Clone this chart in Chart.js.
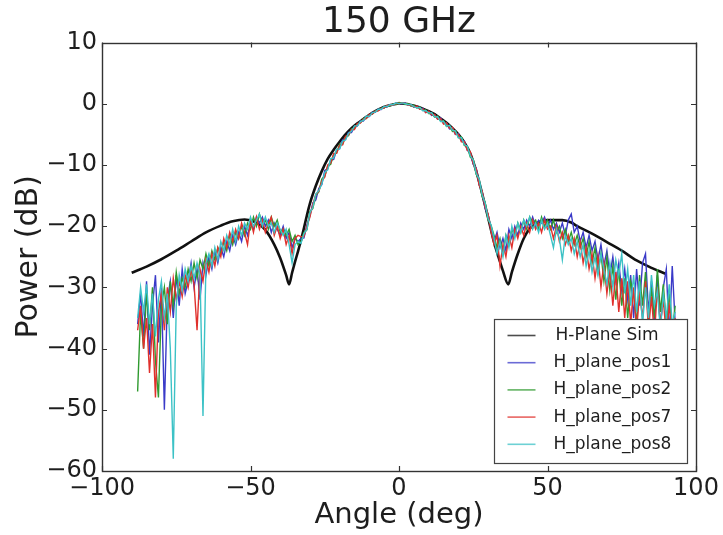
<!DOCTYPE html>
<html><head><meta charset="utf-8">
<script src="https://cdn.jsdelivr.net/npm/chart.js@4.4.1/dist/chart.umd.min.js"></script>
<style>html,body{margin:0;padding:0;background:#fff;}canvas{display:block;}</style>
</head><body>
<canvas id="c" width="723" height="535"></canvas>
<script>
const chartTitle = '150 GHz';
const xAxisTitle = 'Angle (deg)';
const yAxisTitle = 'Power (dB)';
const seriesNames = ['H-Plane Sim', 'H_plane_pos1', 'H_plane_pos2', 'H_plane_pos7', 'H_plane_pos8'];
const seriesColors = ['#111111', '#3a3ac8', '#2f9a2f', '#e0302c', '#3cc2c6'];
const xTickValues = [-100, -50, 0, 50, 100];
const xTickLabels = ['\u2212100', '\u221250', '0', '50', '100'];
const yTickValues = [10, 0, -10, -20, -30, -40, -50, -60];
const yTickLabels = ['10', '0', '\u221210', '\u221220', '\u221230', '\u221240', '\u221250', '\u221260'];

const simAngles = [-90,-85,-80,-75,-70,-65,-60,-56,-52,-48,
-45,-42,-40,-38,-37,-36,-35,-34,-33,-32,
-31,-30,-28,-26,-24,-22,-20,-18,-16,-14,
-12,-10,-8,-6,-4,-2,0,2,4,6,
8,10,12,14,16,18,20,22,24,26,
28,30,32,34,35,36.8,38,40,42,44,
46,48,50,52,55,58,60,65,70,75,
80,85,90];
const simPower = [-27.6,-26.6,-25.4,-24.0,-22.5,-21.0,-19.9,-19.2,-18.9,-19.4,
-20.6,-23.0,-25.2,-28.0,-29.5,-27.6,-25.8,-24.1,-22.3,-20.3,
-18.2,-16.3,-13.4,-11.0,-9.0,-7.5,-6.2,-5.0,-4.0,-3.2,
-2.5,-1.8,-1.2,-0.7,-0.35,-0.1,0.05,0,-0.2,-0.45,
-0.8,-1.2,-1.7,-2.4,-3.1,-4.0,-5.0,-6.3,-8.1,-11.0,
-14.7,-18.6,-22.6,-25.8,-27.3,-29.5,-27.5,-24.5,-22.0,-20.4,
-19.6,-19.2,-19.0,-19.0,-19.0,-19.4,-20.0,-21.2,-22.6,-24.0,
-25.6,-26.8,-27.8];

const measAngles = [-88,-87,-86,-85,-84,-83,-82,-81,-80,-79,-78,-77,-76,-75,-74,-73,-72,-71,-70,-69,-68,-67,-66,-65,-64,-63,-62,-61,
-60,-59,-58,-57,-56,-55,-54,-53,-52,-51,-50,-49,-48,-47,-46,-45,-44,-43,-42,-41,-40,-39,-38,-37,-36,-35,-34,
-33,-32,-31,-30,-29,-28,-27,-26,-25,-24,-23,-22,-21,-20,-19,-18,-17,-16,-15,-14,-13,-12,-11,-10,-9,-8,-7,-6,-5,-4,-3,-2,-1,0,1,2,3,4,5,6,7,8,9,10,11,12,13,14,15,16,17,18,19,20,21,22,23,24,25,26,27,28,29,30,31,
32,33,34,35,36,37,38,39,40,41,42,43,44,45,46,47,48,49,50,51,52,53,54,55,56,57,58,59,60,
61,62,63,64,65,66,67,68,69,70,71,72,73,74,75,76,77,78,79,80,81,82,83,84,85,86,87,88,89,90,91,92,93];

const pos1 = [-36,-31,-38,-29,-41,-33,-28,-39,-30,-50,-32,-29,-35,-28,-33,-27,-31,-29,-26,-30,-27,-32,-26,-28,-25,-27,-24,-26,
-23.5,-25,-22.5,-24,-21.5,-23,-21,-22.5,-20,-21.5,-19.5,-20.5,-18.5,-19.5,-18.5,-20,-19,-21,-19.5,-20.5,-21.5,-20,-22,-21,-23.5,-22,-22.5,
-22.0,-21.9,-19.8,-18.3,-16.2,-15.7,-13.8,-13.2,-10.9,-10.6,-9.2,-9.1,-7.6,-7.3,-5.9,-5.8,-4.7,-4.7,-3.8,-3.6,-2.8,-2.8,-2.1,-2.1,-1.4,-1.4,-0.9,-0.95,-0.5,-0.5,-0.1,-0.2,0.1,0.1,0,0.15,-0.2,-0.15,-0.55,-0.45,-0.85,-0.75,-1.4,-1.3,-1.9,-1.8,-2.5,-2.3,-3.2,-3.2,-4.1,-4.0,-5.0,-4.9,-6.0,-6.1,-7.6,-8.0,-9.9,-10.5,-13.2,-14.4,-17.1,-18.1,-20.6,
-22.5,-21,-23.5,-22,-24,-20.5,-22,-20,-21.5,-19.5,-20.5,-19,-20,-18.5,-20,-19,-19.5,-18.5,-20,-19,-20.5,-19.5,-21,-19.5,-21.5,-19,-18,-21,-20,
-22.5,-21,-23.5,-21.5,-24,-22.5,-25.5,-23,-26.5,-24,-28,-25,-29,-26,-30.5,-27,-32,-28,-35,-27,-33,-26,-24.5,-34,-29,-36,-28,-37,-30,-27,-38,-26.5,-36];

const pos2 = [-47,-34,-40,-31,-37,-30,-42,-48,-33,-30,-36,-29,-33,-27.5,-31,-28.5,-30,-27,-29,-26,-28.5,-25.5,-27,-24.5,-26.5,-24,-25.5,-23.5,
-24.5,-22.5,-24,-21.5,-23,-21,-22,-20,-21.5,-19.5,-20.5,-18.5,-20,-18,-19.5,-19,-20.5,-18.5,-20,-19,-21,-20.5,-21.5,-20.5,-22.5,-21.5,-23,
-22.5,-21.0,-20.6,-17.6,-17.1,-14.9,-14.4,-12.3,-11.8,-10.2,-9.9,-8.3,-8.0,-6.6,-6.6,-5.4,-5.2,-4.1,-4.1,-3.3,-3.1,-2.4,-2.4,-1.8,-1.7,-1.15,-1.1,-0.7,-0.65,-0.3,-0.35,-0.05,-0.1,0.2,0.15,-0.1,0.05,-0.35,-0.25,-0.7,-0.55,-1.05,-1.0,-1.6,-1.55,-2.2,-2.0,-2.8,-2.75,-3.7,-3.6,-4.5,-4.4,-5.5,-5.4,-6.8,-7.0,-8.7,-9.1,-11.5,-12.5,-15.1,-16.1,-18.9,-19.9,
-21.5,-23.5,-22,-24.5,-21.5,-23,-20.5,-21.5,-19.5,-21,-19,-20.5,-18.5,-19.5,-19,-20.5,-18.5,-20,-19,-20.5,-19,-21,-20,-22,-20.5,-22.5,-21,-23,-21.5,
-23.5,-22,-25,-22.5,-26,-23.5,-27.5,-24.5,-29,-25,-30.5,-26.5,-32,-27,-33,-28.5,-35,-29,-31,-36,-28,-33,-27.5,-36,-30,-35,-27,-34,-29.5,-36,-31,-37,-33];

const pos7 = [-37,-33,-40,-35,-44,-36,-48,-34,-31,-37,-30,-34,-28.5,-32,-29,-31.5,-28,-30,-27,-29.5,-37,-27,-29,-25.5,-27.5,-24.5,-26.5,-23.5,
-25,-22,-23.5,-21,-22.5,-20.5,-22,-19.5,-21,-23,-19,-21,-18.5,-20.5,-19,-21,-19.5,-18.5,-21.5,-20,-22,-20.5,-23,-21.5,-24.5,-22,-21.5,
-21.7,-21.7,-20.0,-18.5,-16.4,-14.8,-14.3,-12.6,-12.0,-10.0,-9.7,-8.1,-8.1,-6.8,-6.7,-5.3,-5.1,-4.2,-4.2,-3.2,-3.15,-2.5,-2.4,-1.75,-1.7,-1.2,-1.15,-0.75,-0.7,-0.25,-0.25,-0.2,0.1,0.05,0.1,0.1,-0.25,-0.15,-0.5,-0.35,-0.9,-0.85,-1.45,-1.2,-1.8,-1.75,-2.5,-2.4,-3.3,-3.1,-4.0,-3.85,-5.0,-5.0,-6.2,-6.2,-7.6,-7.8,-9.8,-10.6,-13.3,-14.3,-16.9,-18.0,-20.9,
-23,-21.5,-26.5,-23,-25,-21.5,-23.5,-20.5,-22,-20,-21.5,-19.5,-21,-19,-20.5,-19.5,-21,-19,-20.5,-20,-22,-20,-22.5,-21,-23,-21.5,-24,-22,-25,
-22.5,-26,-23.5,-27,-24.5,-28.5,-25,-30,-26,-31,-27,-33,-27.5,-34,-28.5,-35,-29,-36,-30,-37,-31,-35,-29,-37,-31.5,-38,-30,-36,-32,-38,-33,-37,-35];

const pos8 = [-35,-30,-34,-29.5,-36,-31,-38,-32,-29,-35,-31,-40,-58,-33,-28,-30.5,-27,-29,-26.5,-28.5,-26,-28,-51,-26,-24.5,-26.5,-23.5,-25.5,
-22.5,-24,-21.5,-23,-20.5,-22.5,-20,-21.5,-19.5,-20.5,-18.5,-20,-19,-18,-20,-18.5,-20,-19.5,-21,-19.5,-20.5,-21.5,-20.5,-23,-26,-23,-22.5,
-22.8,-21.2,-20.5,-17.8,-16.9,-14.7,-14.2,-13.1,-11.2,-10.8,-9.0,-8.8,-7.4,-7.4,-6.1,-5.9,-4.8,-4.5,-3.6,-3.6,-2.9,-2.7,-2.0,-2.05,-1.45,-1.35,-0.9,-0.9,-0.45,-0.45,-0.15,-0.15,0.15,0,0.15,0.05,-0.15,-0.1,-0.45,-0.65,-0.6,-1.15,-1.1,-1.5,-1.45,-2.15,-2.1,-2.9,-2.85,-3.65,-3.5,-4.3,-4.45,-5.6,-5.5,-6.7,-6.9,-8.5,-9.2,-11.4,-12.3,-14.9,-16.2,-18.8,-19.8,
-22,-24.5,-22.5,-25,-21.5,-23.5,-20,-22,-19.5,-21,-19,-20,-18.5,-20.5,-19.5,-21,-19,-20.5,-19.5,-21.5,-23.5,-20.5,-22,-25.5,-21.5,-23,-22,-24.5,-22.5,
-25,-23,-26.5,-24,-27.5,-25,-28,-24.5,-27,-29.5,-26,-30,-25.5,-28,-24.5,-31,-27,-33,-28,-34,-29,-36,-30,-35,-28,-33,-30.5,-37,-31,-35,-29.5,-36,-34];

const FONT = "'DejaVu Sans', 'Liberation Sans', sans-serif";
const TXT = '#1e1e1e';

function pts(xs, ys) { return xs.map((v, i) => ({x: v, y: ys[i]})); }

const measured = [pos1, pos2, pos7, pos8];
const datasets = [{
  label: seriesNames[0], data: pts(simAngles, simPower), borderColor: seriesColors[0],
  borderWidth: 2.6, pointRadius: 0, cubicInterpolationMode: 'monotone', order: 5
}].concat(measured.map((arr, i) => ({
  label: seriesNames[i + 1], data: pts(measAngles, arr), borderColor: seriesColors[i + 1],
  borderWidth: 1.4, pointRadius: 0, tension: 0, order: 4 - i
})));

const frameLegend = {
  id: 'frameLegend',
  afterDatasetsDraw(chart) {
    const {ctx, chartArea: a, scales: {x, y}} = chart;
    ctx.save();
    ctx.strokeStyle = '#333';
    ctx.lineWidth = 1.2;
    const L = 5;
    ctx.beginPath();
    xTickValues.forEach(v => {
      const px = Math.round(x.getPixelForValue(v)) + 0.5;
      ctx.moveTo(px, a.bottom); ctx.lineTo(px, a.bottom - L);
      ctx.moveTo(px, a.top); ctx.lineTo(px, a.top + L);
    });
    yTickValues.forEach(v => {
      const py = Math.round(y.getPixelForValue(v)) + 0.5;
      ctx.moveTo(a.left, py); ctx.lineTo(a.left + L, py);
      ctx.moveTo(a.right, py); ctx.lineTo(a.right - L, py);
    });
    ctx.stroke();
    ctx.lineWidth = 1.4;
    ctx.strokeRect(Math.round(a.left) + 0.5, Math.round(a.top) + 0.5, Math.round(a.right - a.left), Math.round(a.bottom - a.top));

    // legend box inside the plot, lower right
    const bw = 193, bh = 144;
    const bx = Math.round(a.right - 9 - bw) + 0.5, by = Math.round(a.bottom - 8 - bh) + 0.5;
    ctx.fillStyle = '#fff';
    ctx.fillRect(bx, by, bw, bh);
    ctx.strokeStyle = '#444';
    ctx.lineWidth = 1.2;
    ctx.strokeRect(bx, by, bw, bh);
    ctx.font = '17px ' + FONT;
    ctx.textBaseline = 'middle';
    ctx.textAlign = 'left';
    chart.data.datasets.forEach((ds, i) => {
      const cy = by + 16 + i * 27.2;
      ctx.strokeStyle = ds.borderColor;
      ctx.lineWidth = 1.6;
      ctx.globalAlpha = 0.75;
      ctx.beginPath(); ctx.moveTo(bx + 13, cy); ctx.lineTo(bx + 41, cy); ctx.stroke();
      ctx.globalAlpha = 1;
      ctx.fillStyle = TXT;
      ctx.fillText(ds.label, bx + 59 + (i === 0 ? 2 : 0), cy);
    });
    ctx.restore();
  }
};

new Chart(document.getElementById('c'), {
  type: 'line',
  data: {datasets},
  plugins: [frameLegend],
  options: {
    responsive: false,
    animation: false,
    devicePixelRatio: 1,
    layout: {padding: {left: 0, right: 27, top: 0, bottom: 0}},
    plugins: {
      legend: {display: false},
      tooltip: {enabled: false},
      title: {
        display: true, text: chartTitle, fullSize: false, color: TXT,
        font: {family: FONT, size: 36, weight: 'normal', lineHeight: 1.1},
        padding: {top: 3, bottom: 0}
      }
    },
    scales: {
      x: {
        type: 'linear', position: 'bottom', min: -100, max: 100,
        grid: {display: false, drawTicks: false}, border: {display: false},
        afterBuildTicks: s => { s.ticks = xTickValues.map(v => ({value: v})); },
        afterFit: s => { s.height = 64; },
        ticks: {
          font: {family: FONT, size: 24}, color: TXT, padding: 3, autoSkip: false, maxRotation: 0,
          callback: v => { const i = xTickValues.indexOf(v); return i >= 0 ? xTickLabels[i] : ''; }
        },
        title: {display: true, text: xAxisTitle, color: TXT, font: {family: FONT, size: 29}, padding: {top: 0, bottom: 2}}
      },
      y: {
        type: 'linear', position: 'left', min: -60, max: 10,
        grid: {display: false, drawTicks: false}, border: {display: false},
        afterBuildTicks: s => { s.ticks = yTickValues.slice().reverse().map(v => ({value: v})); },
        afterFit: s => { s.width = 102; },
        ticks: {
          font: {family: FONT, size: 24}, color: TXT, padding: 5, autoSkip: false,
          callback: v => { const i = yTickValues.indexOf(v); return i >= 0 ? yTickLabels[i] : ''; }
        },
        title: {display: true, text: yAxisTitle, color: TXT, font: {family: FONT, size: 30}, padding: {top: 11, bottom: 0}}
      }
    }
  }
});
</script>
</body></html>
